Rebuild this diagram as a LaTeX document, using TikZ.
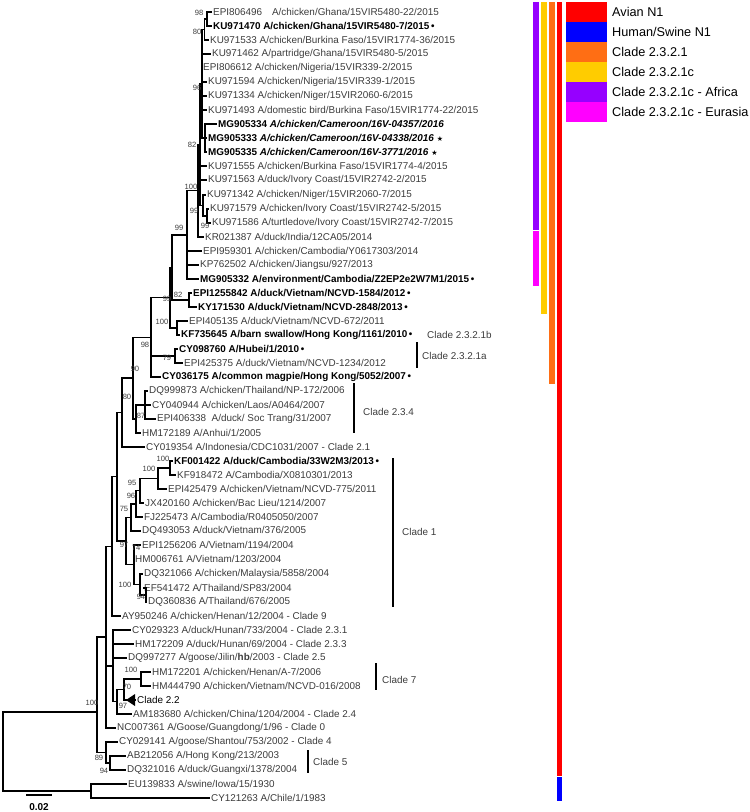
\documentclass[tikz,border=0pt]{standalone}
\usepackage{fontspec}
\setmainfont{Liberation Sans}
\newfontfamily\symfont{DejaVu Sans}
\usetikzlibrary{positioning}
\definecolor{avianred}{RGB}{255, 0, 0}
\definecolor{swineblue}{RGB}{0, 0, 255}
\definecolor{cladeorange}{RGB}{255, 110, 20}
\definecolor{cladeyellow}{RGB}{255, 204, 0}
\definecolor{africapurple}{RGB}{150, 0, 255}
\definecolor{eurasiapink}{RGB}{255, 0, 255}
\definecolor{leafgrey}{RGB}{60, 60, 60}
\newcommand{\dotmark}{\,\textbullet}
\newcommand{\starmark}{\ {\symfont\fontsize{7}{7}\selectfont ★}}

\begin{document}
\begin{tikzpicture}[
  x=1pt, y=-1pt,
  leaf/.style={anchor=west, inner sep=1pt, text=leafgrey,
               font=\fontsize{9.9}{10}\selectfont},
  hot/.style={leaf, text=black, font=\fontsize{9.9}{10}\selectfont\bfseries},
  bs/.style={inner sep=0pt, text=leafgrey, font=\fontsize{7.6}{8}\selectfont},
  br/.style={line width=1.3pt, line join=miter},
  bar/.style={line width=1.3pt},
  clade/.style={anchor=west, inner sep=1pt, text=leafgrey,
                font=\fontsize{9.9}{10}\selectfont},
  lgd/.style={anchor=west, inner sep=0pt, font=\fontsize{12.7}{13}\selectfont}
]
\useasboundingbox (0,0) rectangle (750,812);

% leaves
\node[leaf] (epi806496) at (212,12) {EPI806496\quad A/chicken/Ghana/15VIR5480-22/2015};
\node[hot]  (ku971470)  at (212,26) {KU971470 A/chicken/Ghana/15VIR5480-7/2015\dotmark};
\node[leaf] (ku971533)  at (209,40) {KU971533 A/chicken/Burkina Faso/15VIR1774-36/2015};
\node[leaf] (ku971462)  at (211,54) {KU971462 A/partridge/Ghana/15VIR5480-5/2015};
\node[leaf] (epi806612) at (202,68) {EPI806612 A/chicken/Nigeria/15VIR339-2/2015};
\node[leaf] (ku971594)  at (207,82) {KU971594 A/chicken/Nigeria/15VIR339-1/2015};
\node[leaf] (ku971334)  at (207,96) {KU971334 A/chicken/Niger/15VIR2060-6/2015};
\node[leaf] (ku971493)  at (207,110) {KU971493 A/domestic bird/Burkina Faso/15VIR1774-22/2015};
\node[hot]  (mg905334)  at (217,124) {MG905334 \textit{A/chicken/Cameroon/16V-04357/2016}};
\node[hot]  (mg905333)  at (207,138) {MG905333 \textit{A/chicken/Cameroon/16V-04338/2016}\starmark};
\node[hot]  (mg905335)  at (207,152) {MG905335 \textit{A/chicken/Cameroon/16V-3771/2016}\starmark};
\node[leaf] (ku971555)  at (207,166) {KU971555 A/chicken/Burkina Faso/15VIR1774-4/2015};
\node[leaf] (ku971563)  at (207,180) {KU971563 A/duck/Ivory Coast/15VIR2742-2/2015};
\node[leaf] (ku971342)  at (206,195) {KU971342 A/chicken/Niger/15VIR2060-7/2015};
\node[leaf] (ku971579)  at (209,209) {KU971579 A/chicken/Ivory Coast/15VIR2742-5/2015};
\node[leaf] (ku971586)  at (211,223) {KU971586 A/turtledove/Ivory Coast/15VIR2742-7/2015};
\node[leaf] (kr021387)  at (204,237) {KR021387 A/duck/India/12CA05/2014};
\node[leaf] (epi959301) at (202,251) {EPI959301 A/chicken/Cambodia/Y0617303/2014};
\node[leaf] (kp762502)  at (199,265) {KP762502 A/chicken/Jiangsu/927/2013};
\node[hot]  (mg905332)  at (199,279) {MG905332 A/environment/Cambodia/Z2EP2e2W7M1/2015\dotmark};
\node[hot]  (epi1255842) at (192,293) {EPI1255842 A/duck/Vietnam/NCVD-1584/2012\dotmark};
\node[hot]  (ky171530)  at (197,307) {KY171530 A/duck/Vietnam/NCVD-2848/2013\dotmark};
\node[leaf] (epi405135) at (188,321) {EPI405135 A/duck/Vietnam/NCVD-672/2011};
\node[hot]  (kf735645)  at (180,335) {KF735645 A/barn swallow/Hong Kong/1161/2010\dotmark};
\node[hot]  (cy098760)  at (178,349) {CY098760 A/Hubei/1/2010\dotmark};
\node[leaf] (epi425375) at (183,363) {EPI425375 A/duck/Vietnam/NCVD-1234/2012};
\node[hot]  (cy036175)  at (161,377) {CY036175 A/common magpie/Hong Kong/5052/2007\dotmark};
\node[leaf] (dq999873)  at (148,391) {DQ999873 A/chicken/Thailand/NP-172/2006};
\node[leaf] (cy040944)  at (151,405) {CY040944 A/chicken/Laos/A0464/2007};
\node[leaf] (epi406338) at (156,419) {EPI406338\ \ A/duck/ Soc Trang/31/2007};
\node[leaf] (hm172189)  at (141,433) {HM172189 A/Anhui/1/2005};
\node[leaf] (cy019354)  at (145,447) {CY019354 A/Indonesia/CDC1031/2007 - Clade 2.1};
\node[hot]  (kf001422)  at (173,461) {KF001422 A/duck/Cambodia/33W2M3/2013\dotmark};
\node[leaf] (kf918472)  at (176,475) {KF918472 A/Cambodia/X0810301/2013};
\node[leaf] (epi425479) at (167,489) {EPI425479 A/chicken/Vietnam/NCVD-775/2011};
\node[leaf] (jx420160)  at (144,503) {JX420160 A/chicken/Bac Lieu/1214/2007};
\node[leaf] (fj225473)  at (143,517) {FJ225473 A/Cambodia/R0405050/2007};
\node[leaf] (dq493053)  at (141,531) {DQ493053 A/duck/Vietnam/376/2005};
\node[leaf] (epi1256206) at (141,545) {EPI1256206 A/Vietnam/1194/2004};
\node[leaf] (hm006761)  at (134,559) {HM006761 A/Vietnam/1203/2004};
\node[leaf] (dq321066)  at (143,574) {DQ321066 A/chicken/Malaysia/5858/2004};
\node[leaf] (ef541472)  at (143,588) {EF541472 A/Thailand/SP83/2004};
\node[leaf] (dq360836)  at (147,602) {DQ360836 A/Thailand/676/2005};
\node[leaf] (ay950246)  at (121,616) {AY950246 A/chicken/Henan/12/2004 - Clade 9};
\node[leaf] (cy029323)  at (131,630) {CY029323 A/duck/Hunan/733/2004 - Clade 2.3.1};
\node[leaf] (hm172209)  at (134,644) {HM172209 A/duck/Hunan/69/2004 - Clade 2.3.3};
\node[leaf] (dq997277)  at (127,658) {DQ997277 A/goose/Jilin/\textbf{hb}/2003 - Clade 2.5};
\node[leaf] (hm172201)  at (151,672) {HM172201 A/chicken/Henan/A-7/2006};
\node[leaf] (hm444790)  at (151,686) {HM444790 A/chicken/Vietnam/NCVD-016/2008};
\node[hot]  (clade22)   at (136,700) {\mdseries Clade 2.2};
\node[leaf] (am183680)  at (132,714) {AM183680 A/chicken/China/1204/2004 - Clade 2.4};
\node[leaf] (nc007361)  at (116,728) {NC007361 A/Goose/Guangdong/1/96 - Clade 0};
\node[leaf] (cy029141)  at (118,742) {CY029141 A/goose/Shantou/753/2002 - Clade 4};
\node[leaf] (ab212056)  at (126,756) {AB212056 A/Hong Kong/213/2003};
\node[leaf] (dq321016)  at (126,770) {DQ321016 A/duck/Guangxi/1378/2004};
\node[leaf] (eu139833)  at (127,784) {EU139833 A/swine/Iowa/15/1930};
\node[leaf] (cy121263)  at (210,798) {CY121263 A/Chile/1/1983};

% internal nodes
\coordinate (nGh)    at (207,19);
\coordinate (nGh2)   at (204.5,29.5);
\coordinate (nCam)   at (205,138);
\coordinate (nAfrA)  at (202,83.8);
\coordinate (nIC)    at (207,216);
\coordinate (nNI)    at (203,205.5);
\coordinate (nAfr)   at (200,144.6);
\coordinate (nAfrKR) at (198,190.8);
\coordinate (nC21c)  at (187,234.9);
\coordinate (nV82)   at (189,300);
\coordinate (nV99)   at (172,267.5);
\coordinate (nB100)  at (177,328);
\coordinate (nC100)  at (170,297.7);
\coordinate (nA79)   at (175,356);
\coordinate (nC98)   at (151,337.4);
\coordinate (nC87)   at (145,405);
\coordinate (nC234)  at (136,419);
\coordinate (nC90)   at (133,378);
\coordinate (nC80)   at (122,412.5);
\coordinate (nK100)  at (170,468);
\coordinate (nK100b) at (158,478.5);
\coordinate (nK95)   at (140,490.8);
\coordinate (nK96)   at (136,503.9);
\coordinate (nK75)   at (131,517.4);
\coordinate (nT94)   at (146,595);
\coordinate (nT100)  at (140,584.5);
\coordinate (nK74)   at (134,564.8);
\coordinate (nC1)    at (126,541);
\coordinate (nUp)    at (117,476.7);
\coordinate (nC9)    at (112,546.4);
\coordinate (nC7)    at (141,679);
\coordinate (nC70)   at (124,689.5);
\coordinate (nC97)   at (117,701.8);
\coordinate (nMid)   at (113,665.9);
\coordinate (nBig)   at (106,637);
\coordinate (nC94)   at (110,763);
\coordinate (nC89)   at (106,752.5);
\coordinate (nH5)    at (97,712);
\coordinate (nOut)   at (91,791);
\coordinate (nRoot)  at (3,751.5);

% branches
\foreach \p/\c in {nGh/epi806496.west, nGh/ku971470.west, nGh2/nGh, nGh2/ku971533.west,
    nAfrA/nGh2, nAfrA/ku971462.west, nAfrA/epi806612.west, nAfrA/ku971594.west,
    nAfrA/ku971334.west, nAfrA/ku971493.west, nAfrA/nCam,
    nCam/mg905334.west, nCam/mg905333.west, nCam/mg905335.west,
    nIC/ku971579.west, nIC/ku971586.west, nNI/ku971342.west, nNI/nIC,
    nAfr/nAfrA, nAfr/ku971555.west, nAfr/ku971563.west, nAfr/nNI,
    nAfrKR/nAfr, nAfrKR/kr021387.west,
    nC21c/nAfrKR, nC21c/epi959301.west, nC21c/kp762502.west, nC21c/mg905332.west,
    nV82/epi1255842.west, nV82/ky171530.west, nV99/nC21c, nV99/nV82,
    nB100/epi405135.west, nB100/kf735645.west, nC100/nV99, nC100/nB100,
    nA79/cy098760.west, nA79/epi425375.west,
    nC98/nC100, nC98/nA79, nC98/cy036175.west,
    nC87/dq999873.west, nC87/cy040944.west, nC87/epi406338.west,
    nC234/nC87, nC234/hm172189.west, nC90/nC98, nC90/nC234,
    nC80/nC90, nC80/cy019354.west,
    nK100/kf001422.west, nK100/kf918472.west, nK100b/nK100, nK100b/epi425479.west,
    nK95/nK100b, nK95/jx420160.west, nK96/nK95, nK96/fj225473.west,
    nK75/nK96, nK75/dq493053.west,
    nT94/ef541472.west, nT94/dq360836.west, nT100/dq321066.west, nT100/nT94,
    nK74/epi1256206.west, nK74/hm006761.west, nK74/nT100,
    nC1/nK75, nC1/nK74, nUp/nC80, nUp/nC1, nC9/nUp, nC9/ay950246.west,
    nC7/hm172201.west, nC7/hm444790.west, nC70/nC7, nC70/clade22.west,
    nC97/nC70, nC97/am183680.west,
    nMid/cy029323.west, nMid/hm172209.west, nMid/dq997277.west, nMid/nC97,
    nBig/nC9, nBig/nMid, nBig/nc007361.west,
    nC94/ab212056.west, nC94/dq321016.west, nC89/cy029141.west, nC89/nC94,
    nH5/nBig, nH5/nC89,
    nOut/eu139833.west, nOut/cy121263.west,
    nRoot/nH5, nRoot/nOut}
  \draw[br] (\p) |- (\c);

% collapsed clade 2.2
\fill (126,700) -- (135,694) -- (135,706) -- cycle;

% bootstrap values
\node[bs] at (199,13)  {98};
\node[bs] at (197,32)  {80};
\node[bs] at (197,88)  {96};
\node[bs] at (192,145) {82};
\node[bs] at (191,187) {100};
\node[bs] at (194,211) {99};
\node[bs] at (205,226) {99};
\node[bs] at (179,228) {99};
\node[bs] at (178,295) {82};
\node[bs] at (167,299) {99};
\node[bs] at (162,322) {100};
\node[bs] at (145,345) {98};
\node[bs] at (167,358) {79};
\node[bs] at (135,369) {90};
\node[bs] at (127,397) {80};
\node[bs] at (141,416) {87};
\node[bs] at (163,459) {100};
\node[bs] at (149,469) {100};
\node[bs] at (132,483) {95};
\node[bs] at (131,496) {96};
\node[bs] at (124,509) {75};
\node[bs] at (124,545) {97};
\node[bs] at (136,548) {74};
\node[bs] at (125,585) {100};
\node[bs] at (141,597) {94};
\node[bs] at (131,670) {100};
\node[bs] at (127,687) {70};
\node[bs] at (123,706) {97};
\node[bs] at (92,703)  {100};
\node[bs] at (99,758)  {89};
\node[bs] at (104,771) {94};

% clade brackets
\node[clade] (c2321b) at (426,335) {Clade 2.3.2.1b};
\draw[bar] (417,342) -- (417,368);
\node[clade] (c2321a) at (421,356) {Clade 2.3.2.1a};
\draw[bar] (354,383) -- (354,433);
\node[clade] (c234) at (362,412) {Clade 2.3.4};
\draw[bar] (393,458) -- (393,607);
\node[clade] (c1) at (401,532) {Clade 1};
\draw[bar] (376,663) -- (376,690);
\node[clade] (c7) at (381,680) {Clade 7};
\draw[bar] (308,750) -- (308,773);
\node[clade] (c5) at (312,762) {Clade 5};

% scale bar
\coordinate (sbL) at (26,795);
\coordinate (sbR) at (52,795);
\draw[br] (sbL) -- (sbR);
\node[font=\fontsize{10}{10}\selectfont\bfseries, inner sep=0pt] (sbtxt) at (39,807) {0.02};

% colour bars
\fill[africapurple]  (533,2)   rectangle (538.5,230);
\fill[eurasiapink]   (533,231) rectangle (538.5,286);
\fill[cladeyellow]   (541,2)   rectangle (546.5,314);
\fill[cladeorange]   (549,2)   rectangle (554.5,384);
\fill[avianred]      (556.5,2) rectangle (562,776);
\fill[swineblue]     (556.5,777) rectangle (562,801);

% legend
\foreach \c/\t [count=\i] in {avianred/{Avian N1}, swineblue/{Human/Swine N1},
    cladeorange/{Clade 2.3.2.1}, cladeyellow/{Clade 2.3.2.1c},
    africapurple/{Clade 2.3.2.1c - Africa}, eurasiapink/{Clade 2.3.2.1c - Eurasia}} {
  \fill[\c] (566,{2+(\i-1)*20}) rectangle (607,{21.5+(\i-1)*20});
  \node[lgd] (lgd\i) at (612,{12+(\i-1)*20}) {\t};
}
\end{tikzpicture}
\end{document}
